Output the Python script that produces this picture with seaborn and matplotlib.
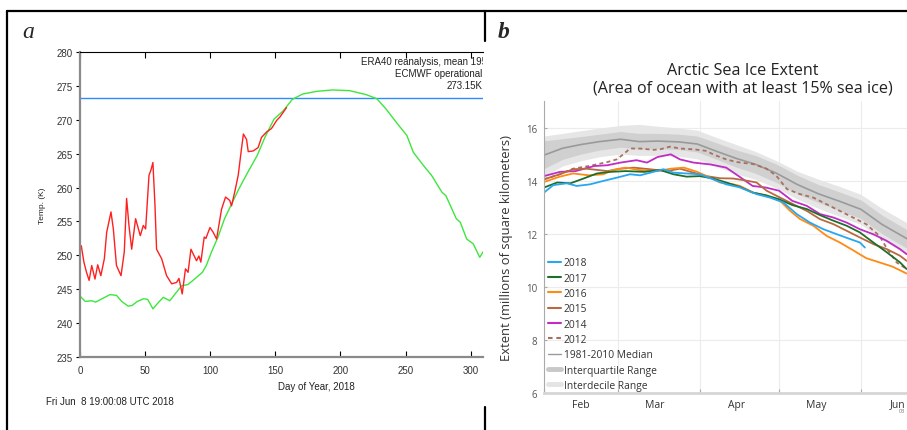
import matplotlib
matplotlib.use("Agg")
import matplotlib.pyplot as plt
from matplotlib.lines import Line2D
import seaborn as sns

# ---- panel a : Arctic temperature (K) vs day of year ----
clim_day = [0, 4, 9, 12, 17, 23, 28, 32, 37, 40, 44, 49, 52, 56, 60, 64, 69, 73, 78, 83, 88, 94,
            97, 101, 106, 111, 117, 122, 129, 136, 142, 149, 156, 163, 171, 182, 194, 207, 220,
            228, 235, 243, 251, 256, 264, 270, 278, 281, 289, 292, 297, 302, 307, 309.5]
clim_temp = [244.0, 243.2, 243.3, 243.1, 243.6, 244.2, 244.1, 243.2, 242.5, 242.6, 243.2, 243.6,
             243.5, 242.1, 243.0, 243.8, 243.3, 244.3, 245.5, 245.7, 246.5, 247.5, 248.5, 250.5,
             252.7, 255.4, 257.8, 259.8, 262.3, 264.7, 267.4, 270.1, 271.3, 273.0, 273.8, 274.2,
             274.4, 274.3, 273.7, 273.1, 271.6, 269.6, 267.7, 265.2, 263.2, 261.8, 259.3, 258.8,
             255.4, 254.9, 252.4, 251.7, 249.7, 250.5]

y2018_day = [0, 1, 3, 5, 7, 9, 11.5, 13.6, 16, 18.7, 20.5, 23.8, 25.6, 28, 31.5, 34, 35.8, 37.6,
             39.7, 42.7, 46.3, 48.6, 50.4, 53, 54.5, 56, 57.6, 58.8, 62.7, 66.5, 70.4, 74.2, 76,
             78.5, 81, 83, 85.2, 89.5, 91.3, 92.8, 95.4, 96.7, 99.8, 102.3, 104.9, 108.7, 111.8,
             115, 116.4, 119, 121.5, 124, 125.5, 127.9, 129.2, 133, 136.8, 139.4, 143.3, 147,
             148.4, 151, 153.5, 158.6]
y2018_temp = [251.5, 251.4, 249.0, 247.5, 246.3, 248.5, 246.5, 248.6, 247.0, 249.5, 253.4, 256.4,
              253.9, 248.5, 247.0, 250.5, 258.4, 254.4, 250.9, 255.4, 252.9, 254.4, 253.9, 261.8,
              262.6, 263.7, 257.3, 250.9, 249.5, 247.0, 245.8, 246.0, 246.6, 244.3, 248.0, 247.5,
              250.9, 249.2, 249.9, 249.0, 252.7, 252.5, 254.1, 253.4, 252.4, 256.8, 258.6, 258.1,
              257.3, 259.5, 261.8, 265.7, 267.9, 267.1, 265.3, 265.4, 265.9, 267.4, 268.2, 268.7,
              269.1, 269.9, 270.4, 271.8]

freezing = 273.15

# ---- panel b : Arctic sea ice extent, days since 1 Feb ----
band_day = [0, 7, 14, 21, 29, 36, 43, 51, 58, 66, 73, 80, 88, 96, 104, 112, 120, 128, 138]
median = [14.96, 15.22, 15.36, 15.47, 15.56, 15.47, 15.49, 15.46, 15.38, 15.08, 14.83, 14.62,
          14.28, 13.85, 13.50, 13.22, 12.92, 12.35, 11.78]
iqr_low = [14.45, 14.80, 15.00, 15.15, 15.26, 15.18, 15.20, 15.17, 15.08, 14.78, 14.50, 14.28,
           13.93, 13.50, 13.17, 12.87, 12.57, 12.00, 11.42]
iqr_high = [15.50, 15.58, 15.66, 15.75, 15.85, 15.78, 15.78, 15.75, 15.68, 15.40, 15.15, 14.95,
            14.62, 14.20, 13.85, 13.57, 13.27, 12.70, 12.12]
idr_low = [14.15, 14.55, 14.75, 14.90, 15.00, 14.95, 14.95, 14.92, 14.82, 14.50, 14.25, 14.05,
           13.72, 13.30, 12.95, 12.65, 12.35, 11.78, 11.18]
idr_high = [15.68, 15.78, 15.88, 15.98, 16.08, 16.12, 16.05, 15.98, 15.90, 15.60, 15.35, 15.10,
            14.75, 14.35, 14.05, 13.78, 13.48, 12.95, 12.38]

d2012 = [0, 6, 11, 17, 24, 27.5, 30, 32.6, 36.4, 41.4, 44, 47.7, 51.5, 56.6, 61.6, 64, 69, 73,
         79.3, 84.3, 88, 92, 97, 102, 107, 112, 117, 122, 127, 130, 133.5, 137.3]
v2012 = [14.05, 14.24, 14.45, 14.55, 14.70, 14.80, 14.99, 15.21, 15.21, 15.16, 15.18, 15.28,
         15.21, 15.18, 15.12, 14.99, 14.80, 14.70, 14.62, 14.45, 14.18, 13.68, 13.49, 13.36,
         13.11, 12.86, 12.61, 12.36, 11.92, 11.42, 10.92, 10.67]
d2014 = [0, 6, 12, 19, 24, 29, 35, 39, 43, 48, 51.5, 56.6, 63, 69, 74, 79, 84, 89, 94, 99.5,
         104.5, 109.6, 114.6, 119.6, 124.7, 129.8, 134.8, 137.3]
v2014 = [14.17, 14.33, 14.36, 14.55, 14.58, 14.68, 14.77, 14.68, 14.89, 14.99, 14.80, 14.68,
         14.61, 14.49, 14.15, 13.80, 13.74, 13.62, 13.24, 13.05, 12.74, 12.61, 12.42, 12.17,
         11.98, 11.73, 11.42, 11.23]
d2015 = [0, 6, 11, 16, 24, 29, 34, 40, 46.5, 51.5, 56.6, 61.6, 66.6, 71.6, 76.7, 80.5, 84.3,
         89.4, 94.4, 99.5, 104.5, 109.6, 114.6, 119.6, 124.7, 129.8, 134.8, 137.3]
v2015 = [14.05, 14.24, 14.43, 14.45, 14.36, 14.45, 14.49, 14.43, 14.36, 14.45, 14.30, 14.17,
         14.09, 14.08, 14.00, 13.93, 13.62, 13.36, 13.11, 12.86, 12.55, 12.36, 12.11, 11.86,
         11.61, 11.42, 11.17, 10.98]
d2016 = [0, 6, 11, 17, 22.5, 26, 31, 36, 43, 48, 53, 58, 63, 66.6, 71.7, 74.2, 79.3, 84.3, 89.4,
         93.2, 97, 102, 107, 112, 117, 122, 127, 132, 137.3]
v2016 = [13.95, 14.15, 14.27, 14.20, 14.24, 14.40, 14.49, 14.40, 14.36, 14.45, 14.49, 14.33,
         14.11, 13.93, 13.86, 13.80, 13.55, 13.43, 13.24, 12.86, 12.55, 12.30, 11.92, 11.67,
         11.38, 11.08, 10.92, 10.76, 10.50]
d2017 = [0, 5, 10, 15, 20, 25, 31, 38, 44, 49, 54, 59, 64, 69, 74, 79, 84, 89, 94, 99.5, 104.5,
         109.6, 114.6, 119.6, 124.7, 129.8, 134.8, 137.3]
v2017 = [13.74, 13.93, 13.90, 14.08, 14.27, 14.33, 14.36, 14.33, 14.40, 14.24, 14.15, 14.17,
         14.08, 13.93, 13.77, 13.55, 13.45, 13.30, 13.08, 12.93, 12.70, 12.49, 12.30, 12.05,
         11.67, 11.30, 10.92, 10.67]
d2018 = [0, 3.5, 8.6, 12.4, 17.4, 22.5, 27.5, 32.6, 36.4, 41.4, 45.2, 49, 54, 59, 64, 69, 74,
         80.5, 85.6, 90.6, 95.7, 100.7, 105.8, 110.9, 115.9, 119.6, 121.5]
v2018 = [13.55, 13.83, 13.90, 13.80, 13.86, 13.99, 14.11, 14.24, 14.20, 14.33, 14.43, 14.30,
         14.27, 14.24, 14.05, 13.86, 13.75, 13.49, 13.36, 13.18, 12.74, 12.42, 12.17, 11.98,
         11.80, 11.67, 11.48]

month_starts = [0, 28, 59, 89, 120, 150]
month_mids = [14, 42, 73, 103, 134]
month_names = ['Feb', 'Mar', 'Apr', 'May', 'Jun']

sns.set_style("white")
plt.rcParams['font.family'] = ['Liberation Sans', 'DejaVu Sans']

W, H = 907, 431
fig = plt.figure(figsize=(W / 100, H / 100), dpi=100)


def fx(px):
    return px / W


def fy(py):
    return 1 - py / H


# outer frame of the composite
for x0, y0, x1, y1 in [(7, 12, 907, 12), (7, 12, 7, 431), (485, 12, 485, 42), (485, 408, 485, 431)]:
    fig.add_artist(Line2D([fx(x0), fx(x1)], [fy(y0), fy(y1)], color='black', lw=1.6,
                          transform=fig.transFigure))

fig.text(fx(22), fy(38), 'a', fontsize=17, style='italic', family='Liberation Serif', va='baseline')
fig.text(fx(498), fy(38), 'b', fontsize=17, style='italic', weight='bold',
         family='Liberation Serif', va='baseline')

# ---------------- panel a ----------------
ax1 = fig.add_axes([fx(80), fy(358), fx(483) - fx(80), fy(53) - fy(358)])
ax1.axhline(freezing, color='#2a8cff', lw=1.0)
sns.lineplot(x=clim_day, y=clim_temp, ax=ax1, color='#3de63d', lw=1.0)
sns.lineplot(x=y2018_day, y=y2018_temp, ax=ax1, color='#ff1f1f', lw=1.0)
ax1.set_xlim(0, 309.5)
ax1.set_ylim(235, 280)
ax1.set_xticks(range(0, 301, 50))
ax1.set_yticks(range(235, 281, 5))
ax1.spines['right'].set_visible(False)
for s in ['left', 'bottom']:
    ax1.spines[s].set_color('#8a8a8a')
    ax1.spines[s].set_linewidth(1.6)
ax1.spines['top'].set_color('black')
ax1.spines['top'].set_linewidth(0.8)
ax1.tick_params(axis='x', direction='in', length=4, width=0.8, top=True, bottom=True,
                color='black', labelsize=7, labelcolor='#333333', pad=6)
ax1.tick_params(axis='y', direction='out', length=3, width=0.8, left=True,
                color='black', labelsize=7, labelcolor='#333333', pad=2)
ax1.set_ylabel('Temp. (K)', fontsize=6, color='#222222', labelpad=8)
ax1.set_xlabel('Day of Year, 2018', fontsize=7, color='#222222')
ax1.xaxis.set_label_coords(0.586, -0.08)
ax1.text(215.7, 278.7, 'ERA40 reanalysis, mean 1958-2002', fontsize=7, ha='left', va='center',
         color='#222222', clip_on=True)
ax1.text(308.8, 276.9, 'ECMWF operational', fontsize=7, ha='right', va='center', color='#222222')
ax1.text(308.8, 275.1, '273.15K', fontsize=7, ha='right', va='center', color='#222222')
fig.text(fx(46), fy(402), 'Fri Jun  8 19:00:08 UTC 2018', fontsize=7, va='center', color='#222222')

# ---------------- panel b ----------------
OS = 'Open Sans'
ax2 = fig.add_axes([fx(544), fy(394), fx(942) - fx(544), fy(102) - fy(394)])
ax2.fill_between(band_day, idr_low, idr_high, color='#e6e6e6', lw=0)
ax2.fill_between(band_day, iqr_low, iqr_high, color='#d0d0d0', lw=0)
sns.lineplot(x=band_day, y=median, ax=ax2, color='#9a9a9a', lw=1.2)

series = [
    ('2012', d2012, v2012, '#a8705f', (0, (2.2, 1.8))),
    ('2014', d2014, v2014, '#c02cc4', '-'),
    ('2015', d2015, v2015, '#b8693f', '-'),
    ('2016', d2016, v2016, '#ff8a14', '-'),
    ('2017', d2017, v2017, '#1e6e2c', '-'),
    ('2018', d2018, v2018, '#29a6f0', '-'),
]
handles = {}
for name, d, v, col, ls in series:
    sns.lineplot(x=d, y=v, ax=ax2, color=col, lw=1.3, linestyle=ls)
    handles[name] = Line2D([], [], color=col, lw=1.5, linestyle=ls)

leg_names = ['2018', '2017', '2016', '2015', '2014', '2012']
leg_handles = [handles[n] for n in leg_names] + [
    Line2D([], [], color='#9a9a9a', lw=1.0),
    Line2D([], [], color='#c8c8c8', lw=3.5),
    Line2D([], [], color='#e4e4e4', lw=3.5),
]
leg_labels = leg_names + ['1981-2010 Median', 'Interquartile Range', 'Interdecile Range']
leg = ax2.legend(leg_handles, leg_labels, loc='lower left', bbox_to_anchor=(0.005, 0.0),
                 frameon=False, handlelength=1.3, handletextpad=0.25, labelspacing=0.42,
                 borderpad=0.2, borderaxespad=0.0, prop={'family': OS, 'size': 7.4})
for t in leg.get_texts():
    t.set_color('#333333')

ax2.set_xlim(0, 150.7)
ax2.set_ylim(6, 17)
ax2.set_yticks([6, 8, 10, 12, 14, 16])
ax2.set_xticks(month_starts)
ax2.set_xticklabels([''] * len(month_starts))
ax2.set_xticks(month_mids, minor=True)
ax2.set_xticklabels(month_names, minor=True, fontfamily=OS, fontsize=7.5, color='#333333')
ax2.grid(True, which='major', color='#ececec', lw=0.8)
ax2.set_axisbelow(True)
ax2.tick_params(axis='x', which='major', direction='in', length=3, width=0.8, color='#aaaaaa',
                bottom=True)
ax2.tick_params(axis='x', which='minor', length=0, pad=4)
ax2.tick_params(axis='y', direction='in', length=2, width=0.8, color='#aaaaaa', left=True,
                labelsize=7, labelcolor='#555555', pad=5)
for lbl in ax2.get_yticklabels():
    lbl.set_fontfamily(OS)
for s in ['top', 'right']:
    ax2.spines[s].set_visible(False)
ax2.spines['left'].set_color('#aaaaaa')
ax2.spines['left'].set_linewidth(0.8)
ax2.spines['bottom'].set_color('#d6d6d6')
ax2.spines['bottom'].set_linewidth(2.0)
ax2.set_ylabel('Extent (millions of square kilometers)', fontfamily=OS, fontsize=9.4,
               color='#333333', labelpad=9)
ax2.set_title('Arctic Sea Ice Extent\n(Area of ocean with at least 15% sea ice)',
              fontfamily=OS, fontsize=11.6, color='#222222', pad=7, linespacing=1.1)
fig.text(fx(899), fy(412), '03', fontsize=4, color='#777777', va='center', family=OS)

fig.savefig('out.png', dpi=100)
